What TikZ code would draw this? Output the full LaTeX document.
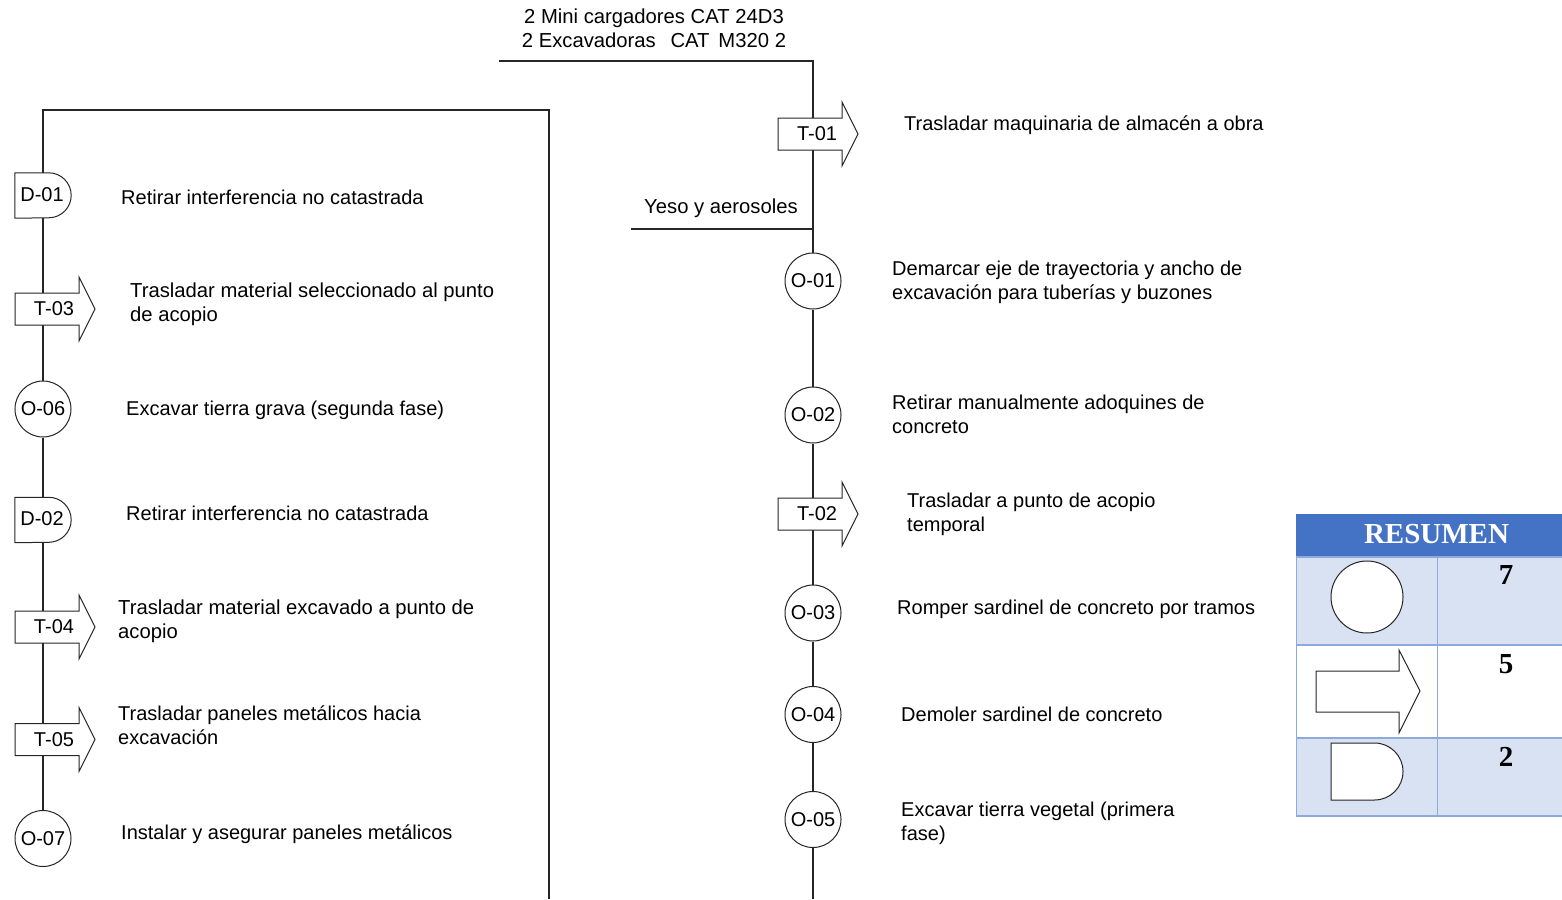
\documentclass[tikz,border=0pt]{standalone}
\usepackage{fontspec}
\setmainfont{Liberation Sans}
\newfontfamily\tabfont{Liberation Serif}
\usetikzlibrary{backgrounds,calc}
\definecolor{hdrblue}{HTML}{4472C4}
\definecolor{rowblue}{HTML}{D9E2F3}
\definecolor{gridblue}{HTML}{8EAADB}
\tikzset{
  x=1pt,y=-1pt,
  flow/.style={line width=1.2pt,black!85},
  sym/.style={draw=black!85,line width=1pt,fill=white},
  opnode/.style={circle,draw=black!85,line width=1pt,fill=white,minimum size=56pt,inner sep=0pt,font=\fontsize{20}{22}\selectfont},
  slot/.style={inner sep=0pt,minimum width=56pt,minimum height=45pt},
  idtext/.style={inner sep=0pt,font=\fontsize{20}{22}\selectfont},
  desc/.style={inner sep=0pt,anchor=base west,align=left,font=\fontsize{20}{24}\selectfont},
  wide/.style={font=\fontsize{20.25}{24}\selectfont},
  cell/.style={draw=gridblue,line width=1.7pt,anchor=north west,inner sep=0pt,outer sep=0pt},
  tnum/.style={inner sep=0pt,anchor=base,font=\tabfont\bfseries\fontsize{29}{30}\selectfont},
}
% transport arrow: name, spine x, y, text, left reach of the arrow from the spine
\newcommand{\tarrow}[5]{%
  \coordinate (#1) at (#2,#3);
  \path[sym] ($(#1)+(-#5,-16)$) -- ++(64,0) -- ++(0,-16) -- ++(16,32) -- ++(-16,32) -- ++(0,-16) -- ++(-64,0) -- cycle;
  \node[idtext] (#1-t) at ($(#1)+(-#5,0)+(39,0)$) {#4};
}
% delay shape: name, centre x, y, text
\newcommand{\delaysym}[4]{%
  \node[slot] (#1) at (#2,#3) {};
  \path[sym] (#1.north west) -- ($(#1.north east)+(-22.5,0)$) arc[start angle=90,end angle=-90,radius=22.5pt] -- (#1.south west) -- cycle;
  \node[idtext] (#1-t) at ($(#1)+(-1,-1)$) {#4};
}
\begin{document}
\begin{tikzpicture}
\useasboundingbox (0,0) rectangle (1562,899);

% right column
\coordinate (inA) at (499,61);
\coordinate (cornerA) at (813,61);
\coordinate (inB) at (631,229);
\coordinate (joinB) at (813,229);
\coordinate (endR) at (813,899);
\tarrow{t01}{813}{134}{T-01}{35}
\node[opnode] (o01) at (813,281) {O-01};
\node[opnode] (o02) at (813,415) {O-02};
\tarrow{t02}{813}{514}{T-02}{35}
\node[opnode] (o03) at (813,613) {O-03};
\node[opnode] (o04) at (813,714.5) {O-04};
\node[opnode] (o05) at (813,819.5) {O-05};

% left column
\coordinate (cornerL) at (43,110);
\coordinate (cornerM) at (549,110);
\coordinate (endM) at (549,899);
\delaysym{d01}{43}{195.5}{D-01}
\tarrow{t03}{43}{309}{T-03}{28}
\node[opnode] (o06) at (43,409) {O-06};
\delaysym{d02}{43}{520}{D-02}
\tarrow{t04}{43}{627}{T-04}{28}
\tarrow{t05}{43}{739.5}{T-05}{28}
\node[opnode] (o07) at (43,838.5) {O-07};

\begin{scope}[on background layer]
  \draw[flow] (inA) -- (cornerA) -- (t01) -- (joinB) -- (o01) -- (o02) -- (t02) -- (o03) -- (o04) -- (o05) -- (endR);
  \draw[flow] (inB) -- (joinB);
  \draw[flow] (endM) -- (cornerM) -- (cornerL) -- (d01) -- (t03) -- (o06) -- (d02) -- (t04) -- (t05) -- (o07);
\end{scope}

% input labels
\node[desc,wide,anchor=base,align=center] (inAtext) at (654,48) {2 Mini cargadores CAT 24D3\\2 Excavadoras\ \ \,CAT\ \,M320 2};
\node[desc,wide] (inBtext) at (644,213) {Yeso y aerosoles};

% right descriptions
\node[desc] (dt01) at (904,130) {Trasladar maquinaria de almacén a obra};
\node[desc] (do01) at (892,299) {Demarcar eje de trayectoria y ancho de\\excavación para tuberías y buzones};
\node[desc] (do02) at (892,433) {Retirar manualmente adoquines de\\concreto};
\node[desc] (dt02) at (907,531) {Trasladar a punto de acopio\\temporal};
\node[desc] (do03) at (897,614) {Romper sardinel de concreto por tramos};
\node[desc] (do04) at (901,721) {Demoler sardinel de concreto};
\node[desc] (do05) at (901,840) {Excavar tierra vegetal (primera\\fase)};

% left descriptions
\node[desc] (dd01) at (121,204) {Retirar interferencia no catastrada};
\node[desc,wide] (dt03) at (130,321) {Trasladar material seleccionado al punto\\de acopio};
\node[desc] (do06) at (126,415) {Excavar tierra grava (segunda fase)};
\node[desc] (dd02) at (126,520) {Retirar interferencia no catastrada};
\node[desc,wide] (dt04) at (118,638) {Trasladar material excavado a punto de\\acopio};
\node[desc] (dt05) at (118,744) {Trasladar paneles metálicos hacia\\excavación};
\node[desc] (do07) at (121,839) {Instalar y asegurar paneles metálicos};

% summary table
\node[anchor=north west,fill=hdrblue,minimum width=266pt,minimum height=43pt,inner sep=0pt] (hdr) at (1296,514) {};
\node[tnum,text=white] (hdrt) at (1436.5,543) {RESUMEN};
\node[cell,fill=rowblue,minimum width=141pt,minimum height=88pt] (r1a) at (1296.5,557) {};
\node[cell,fill=rowblue,minimum width=126pt,minimum height=88pt] (r1b) at (1437.5,557) {};
\node[cell,fill=white,minimum width=141pt,minimum height=93pt] (r2a) at (1296.5,645) {};
\node[cell,fill=white,minimum width=126pt,minimum height=93pt] (r2b) at (1437.5,645) {};
\node[cell,fill=rowblue,minimum width=141pt,minimum height=78pt] (r3a) at (1296.5,738) {};
\node[cell,fill=rowblue,minimum width=126pt,minimum height=78pt] (r3b) at (1437.5,738) {};
\node[tnum] (n7) at (1506,584) {7};
\node[tnum] (n5) at (1506,673) {5};
\node[tnum] (n2) at (1506,766) {2};
\node[circle,sym,minimum size=72pt,inner sep=0pt] (symO) at (1367,597) {};
\path[sym] (1316,671) -- (1399,671) -- (1399,650) -- (1420,691) -- (1399,733) -- (1399,712) -- (1316,712) -- cycle;
\path[sym] (1331,743) -- (1374.5,743) arc[start angle=90,end angle=-90,radius=28.5pt] -- (1331,800) -- cycle;
\end{tikzpicture}
\end{document}
